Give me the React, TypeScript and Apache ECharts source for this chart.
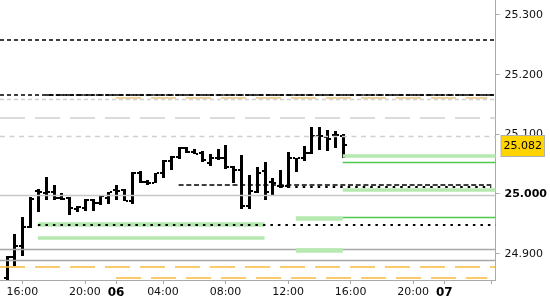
import React, { useEffect, useRef } from 'react';
import * as echarts from 'echarts';

// 30-minute OHLC bars (slot index = position on the compressed trading-time axis)
const barOpen = [24.859, 24.894, 24.912, 24.944, 25.004, 25.001, 25.003, 24.992, 24.993, 24.974, 24.976, 24.989, 24.985, 24.992, 25.006, 25.006, 24.988, 25.035, 25.020, 25.018, 25.034, 25.055, 25.061, 25.076, 25.070, 25.068, 25.052, 25.059, 25.059, 25.045, 25.040, 24.979, 25.003, 25.038, 25.020, 25.013, 25.013, 25.059, 25.060, 25.068, 25.097, 25.095, 25.098, 25.097];
const barHigh = [24.895, 24.932, 24.961, 24.995, 25.008, 25.028, 25.015, 25.001, 24.994, 24.979, 24.991, 24.991, 24.998, 25.003, 25.015, 25.008, 25.037, 25.038, 25.023, 25.035, 25.056, 25.063, 25.079, 25.078, 25.074, 25.072, 25.066, 25.074, 25.082, 25.046, 25.065, 25.031, 25.044, 25.053, 25.027, 25.039, 25.070, 25.060, 25.080, 25.111, 25.112, 25.107, 25.105, 25.100];
const barLow = [24.85, 24.878, 24.895, 24.942, 24.969, 24.989, 24.989, 24.989, 24.964, 24.969, 24.971, 24.971, 24.981, 24.983, 24.989, 24.988, 24.983, 25.017, 25.015, 25.017, 25.026, 25.040, 25.058, 25.068, 25.066, 25.053, 25.046, 25.056, 25.041, 25.017, 24.974, 24.974, 25.001, 24.990, 24.998, 25.009, 25.010, 25.037, 25.054, 25.066, 25.073, 25.072, 25.077, 25.059];
const barClose = [24.894, 24.912, 24.944, 24.991, 25.003, 25.002, 24.993, 24.991, 24.976, 24.978, 24.989, 24.984, 24.996, 25.002, 25.004, 24.988, 25.035, 25.020, 25.018, 25.034, 25.054, 25.062, 25.077, 25.070, 25.066, 25.056, 25.059, 25.059, 25.045, 25.040, 24.979, 25.005, 25.035, 25.003, 25.017, 25.013, 25.059, 25.060, 25.068, 25.097, 25.097, 25.092, 25.098, 25.082];

// x axis ticks (slot indices) and their labels
const tickSlots = [2, 10, 14, 20, 28, 36, 44, 52, 56, 62];
const tickLabels = ['16:00', '20:00', '06', '04:00', '08:00', '12:00', '16:00', '20:00', '07', ''];
const dayLabels = ['06', '07'];

// y axis ticks
const priceTicks = [24.9, 25.0, 25.1, 25.2, 25.3];

// horizontal levels: value, start slot, end slot (null = chart edge), kind
const levelValue = [25.2587, 25.1659, 25.1662, 25.1615, 25.158, 25.128, 25.0966, 25.063, 25.0525, 25.0156, 25.0116, 25.006, 24.997, 24.959, 24.960, 24.948, 24.9486, 24.926, 24.907, 24.905, 24.888, 24.8768, 24.8583];
const levelFrom: (number | null)[] = [null, null, 5, 14, null, null, null, 43, 43, 22, 35, 43, null, 37, 43, 4, 4, 4, null, 37, null, null, 14];
const levelTo: (number | null)[] = [null, null, null, 61.5, null, null, null, null, null, 62, 62, null, null, 43, null, 33, null, 33, null, 43, null, null, 61.5];
const levelKind = ['blackDash', 'blackDash', 'blackLongDash', 'orangeDashLight', 'greyShortDash', 'greyLongDash', 'greyDash', 'greenBand', 'greenLine', 'blackDash2', 'blackDot', 'greenBand', 'greySolidLight', 'greenBandWide', 'greenLine', 'greenBandWide', 'blackDot', 'greenBand', 'greySolid', 'greenBandWide', 'greySolid', 'orangeDash', 'orangeDash'];

const kindStyle: Record<string, any> = {
  blackDash: { color: '#000', width: 1.5, type: [4, 3] },
  blackLongDash: { color: '#000', width: 1.5, type: [8, 2] },
  blackDash2: { color: '#000', width: 1.5, type: [5, 2.7] },
  blackDot: { color: '#000', width: 2, type: [2.5, 5] },
  greyShortDash: { color: '#d0d0d0', width: 1.3, type: [4, 3] },
  greyLongDash: { color: '#d0d0d0', width: 1.5, type: [25, 10] },
  greyDash: { color: '#d0d0d0', width: 1.3, type: [5, 4.5] },
  greySolidLight: { color: '#c8c8c8', width: 1.3, type: 'solid' },
  greySolid: { color: '#a8a8a8', width: 1.3, type: 'solid' },
  orangeDashLight: { color: '#e9c27a', width: 1.5, type: [25, 10] },
  orangeDash: { color: '#f7bb3c', width: 1.5, type: [25, 10] },
  greenBand: { color: '#b5e9b0', width: 3.5, type: 'solid' },
  greenBandWide: { color: '#b5e9b0', width: 4.5, type: 'solid' },
  greenLine: { color: '#4ecb4e', width: 1.3, type: 'solid' },
};

const X_MIN = -0.85;
const X_MAX = 62.55;
const Y_MIN = 24.8552;
const Y_MAX = 25.3246;
const FONT = '"DejaVu Sans", Verdana, sans-serif';

export default function App() {
  const ref = useRef<HTMLDivElement>(null);
  useEffect(() => {
    if (!ref.current) return;
    const chart = echarts.init(ref.current, undefined, { renderer: 'svg' });
    const ohlc = barOpen.map((o, i) => [i, o, barHigh[i], barLow[i], barClose[i]]);
    const lastClose = barClose[barClose.length - 1];

    const levelLines = levelValue.map((v, i) => [
      {
        coord: [levelFrom[i] === null ? X_MIN : levelFrom[i], v],
        lineStyle: { ...kindStyle[levelKind[i]], cap: 'butt' },
      },
      { coord: [levelTo[i] === null ? X_MAX : levelTo[i], v] },
    ]);

    chart.setOption({
      animation: false,
      grid: { left: 0, right: 51, top: 0, bottom: 20, containLabel: false },
      xAxis: {
        type: 'value',
        min: X_MIN,
        max: X_MAX,
        splitLine: { show: false },
        axisLine: { show: true, onZero: false, lineStyle: { color: '#aaa', width: 1 } },
        axisTick: { show: true, customValues: tickSlots, length: 4, lineStyle: { color: '#aaa' } },
        axisLabel: {
          customValues: tickSlots.slice(0, tickSlots.length - 1),
          margin: 6,
          fontFamily: FONT,
          fontSize: 11,
          color: '#111',
          formatter: (v: number) => {
            const k = tickSlots.findIndex((t) => Math.abs(t - v) < 1e-6);
            const s = k >= 0 ? tickLabels[k] : '';
            return dayLabels.includes(s) ? `{b|${s}}` : s;
          },
          rich: { b: { fontWeight: 'bold', fontSize: 12, fontFamily: FONT, color: '#000' } },
        },
      },
      yAxis: {
        type: 'value',
        position: 'right',
        min: Y_MIN,
        max: Y_MAX,
        scale: true,
        splitLine: { show: false },
        axisLine: { show: true, onZero: false, lineStyle: { color: '#aaa', width: 1 } },
        axisTick: { show: true, customValues: priceTicks, length: 4, lineStyle: { color: '#aaa' } },
        axisLabel: {
          customValues: priceTicks,
          margin: 9,
          fontFamily: FONT,
          fontSize: 11,
          color: '#111',
          formatter: (v: number) => {
            const s = v.toFixed(3);
            return Math.abs(v - 25) < 1e-9 ? `{b|${s}}` : s;
          },
          rich: { b: { fontWeight: 'bold', fontSize: 11, fontFamily: FONT, color: '#000' } },
        },
      },
      series: [
        {
          type: 'line',
          z: 1,
          data: [],
          silent: true,
          markLine: {
            silent: true,
            symbol: ['none', 'none'],
            label: { show: false },
            data: levelLines,
          },
        },
        {
          type: 'custom',
          z: 3,
          clip: true,
          data: ohlc,
          encode: { x: 0, y: [1, 2, 3, 4] },
          renderItem: (_params: any, api: any) => {
            const x = api.value(0);
            const pH = api.coord([x, api.value(2)]);
            const pL = api.coord([x, api.value(3)]);
            const pO = api.coord([x, api.value(1)]);
            const pC = api.coord([x, api.value(4)]);
            const cx = Math.round(pH[0]);
            const top = Math.round(pH[1]);
            const bot = Math.round(pL[1]);
            return {
              type: 'group',
              children: [
                { type: 'rect', shape: { x: cx - 1, y: top, width: 3, height: Math.max(bot - top, 1) }, style: { fill: '#000' } },
                { type: 'rect', shape: { x: cx - 3, y: Math.round(pO[1]) - 1, width: 2, height: 2 }, style: { fill: '#000' } },
                { type: 'rect', shape: { x: cx + 2, y: Math.round(pC[1]) - 1, width: 2, height: 2 }, style: { fill: '#000' } },
              ],
            };
          },
        },
        {
          type: 'line',
          z: 4,
          data: [],
          silent: true,
          markLine: {
            silent: true,
            symbol: ['none', 'none'],
            lineStyle: { color: 'rgba(0,0,0,0)', width: 1 },
            label: {
              show: true,
              position: 'end',
              distance: 6,
              formatter: () => lastClose.toFixed(3),
              fontFamily: FONT,
              fontSize: 11,
              color: '#000',
              backgroundColor: '#ffd400',
              borderColor: '#b0b0b0',
              borderWidth: 1,
              padding: [3, 2, 3, 2],
              lineHeight: 14,
            },
            data: [{ yAxis: lastClose }],
          },
        },
      ],
    });
    return () => chart.dispose();
  }, []);
  return <div ref={ref} style={{ position: 'fixed', left: 0, top: 0, width: 550, height: 300 }} />;
}
